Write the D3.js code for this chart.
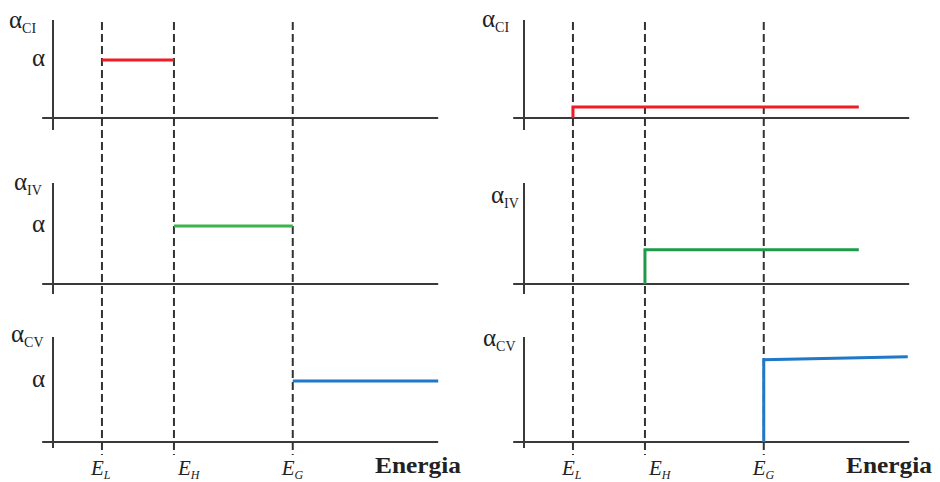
<!DOCTYPE html>
<html>
<head>
<meta charset="utf-8">
<script src="https://cdn.jsdelivr.net/npm/d3@7"></script>
<style>
  body { margin: 0; background: #fff; }
  .axis { stroke: #3a3a3a; stroke-width: 2; fill: none; }
  .guide { stroke: #333; stroke-width: 2; stroke-dasharray: 8 4; fill: none; }
  .curve { fill: none; stroke-width: 3; stroke-linejoin: miter; }
  text { font-family: "Liberation Serif", "DejaVu Serif", serif; fill: #222; }
</style>
</head>
<body>
<div id="chart"></div>
<script>
var width = 940;
var height = 482;

// energias de referencia (eje x)
var energyNames  = ["L", "H", "G"];
var energyValues = [0.68, 1.68, 3.33];
var axisEnd = 5.35;

// etiquetas de cada fila
var rowNames = ["CI", "IV", "CV"];

// panel izquierdo: absorcion constante alfa entre umbrales
var leftCI = [[0.68, 1], [1.68, 1]];
var leftIV = [[1.68, 1], [3.33, 1]];
var leftCV = [[3.33, 1.05], [5.35, 1.05]];

// panel derecho: escalones
var rightCI = [[0.68, 0], [0.68, 0.19], [4.65, 0.19]];
var rightIV = [[1.68, 0], [1.68, 0.59], [4.65, 0.59]];
var rightCV = [[3.33, 0], [3.33, 1.42], [5.33, 1.47]];

var leftColors  = ["#ee1d25", "#3cb44b", "#1f78c8"];
var rightColors = ["#ee1d25", "#1f9a4b", "#1f78c8"];

var svg = d3.select("#chart").append("svg").attr("width", width).attr("height", height);

var baselines = [118, 284, 442];
var axisTops  = [20, 183, 337];
var axisBots  = [130, 294, 448];
// posicion del titulo alfa de cada fila (relativa al eje)
var leftTitle  = [[-44, 28], [-39, 190], [-42, 342]];
var rightTitle = [[-42, 27], [-33, 203], [-41, 346]];
var alphaLevel = [1, 1, 1.05];

var panels = [
  { x0: 53,  series: [leftCI, leftIV, leftCV],    colors: leftColors,  title: leftTitle,  alpha: true },
  { x0: 524, series: [rightCI, rightIV, rightCV], colors: rightColors, title: rightTitle, alpha: false }
];

panels.forEach(function(p) {
  var x = d3.scaleLinear().domain([0, 6]).range([p.x0, p.x0 + 6 * 72]);
  var g = svg.append("g");

  rowNames.forEach(function(name, i) {
    var y = d3.scaleLinear().domain([0, 1]).range([baselines[i], baselines[i] - 58]);

    // eje vertical
    g.append("line").attr("class", "axis")
      .attr("x1", x(0)).attr("x2", x(0))
      .attr("y1", axisTops[i]).attr("y2", axisBots[i]);
    // eje horizontal
    g.append("line").attr("class", "axis")
      .attr("x1", x(-0.15)).attr("x2", x(axisEnd))
      .attr("y1", y(0)).attr("y2", y(0));

    // titulo alfa con subindice
    var t = g.append("text")
      .attr("x", x(0) + p.title[i][0]).attr("y", p.title[i][1]);
    t.append("tspan").attr("font-size", 25).text("α");
    t.append("tspan").attr("font-size", 14).attr("dy", 5).text(name);

    if (p.alpha) {
      g.append("text").attr("x", x(0) - 8).attr("y", y(alphaLevel[i]) + 6)
        .attr("text-anchor", "end").attr("font-size", 25).text("α");
    }
  });

  // lineas punteadas de energia
  g.selectAll(".guide").data(energyValues).enter().append("line")
    .attr("class", "guide")
    .attr("x1", function(d) { return x(d); }).attr("x2", function(d) { return x(d); })
    .attr("y1", 22).attr("y2", 455);

  // curvas
  p.series.forEach(function(s, i) {
    var y = d3.scaleLinear().domain([0, 1]).range([baselines[i], baselines[i] - 58]);
    var line = d3.line()
      .x(function(d) { return x(d[0]); })
      .y(function(d) { return y(d[1]); });
    g.append("path").data([s])
      .attr("class", "curve")
      .attr("stroke", p.colors[i])
      .attr("d", line);
  });

  // etiquetas E_L, E_H, E_G
  var dx = { L: -11, H: 4, G: -11 };
  energyNames.forEach(function(n, i) {
    var t = g.append("text")
      .attr("x", x(energyValues[i]) + dx[n]).attr("y", 475)
      .attr("font-style", "italic");
    t.append("tspan").attr("font-size", 21).text("E");
    t.append("tspan").attr("font-size", 12).attr("dy", 4).text(n);
  });

  g.append("text").attr("x", x(0) + 322).attr("y", 473)
    .attr("font-size", 23).attr("font-weight", "bold").attr("fill", "#111")
    .attr("textLength", 86).attr("lengthAdjust", "spacingAndGlyphs")
    .text("Energia");
});
</script>
</body>
</html>
